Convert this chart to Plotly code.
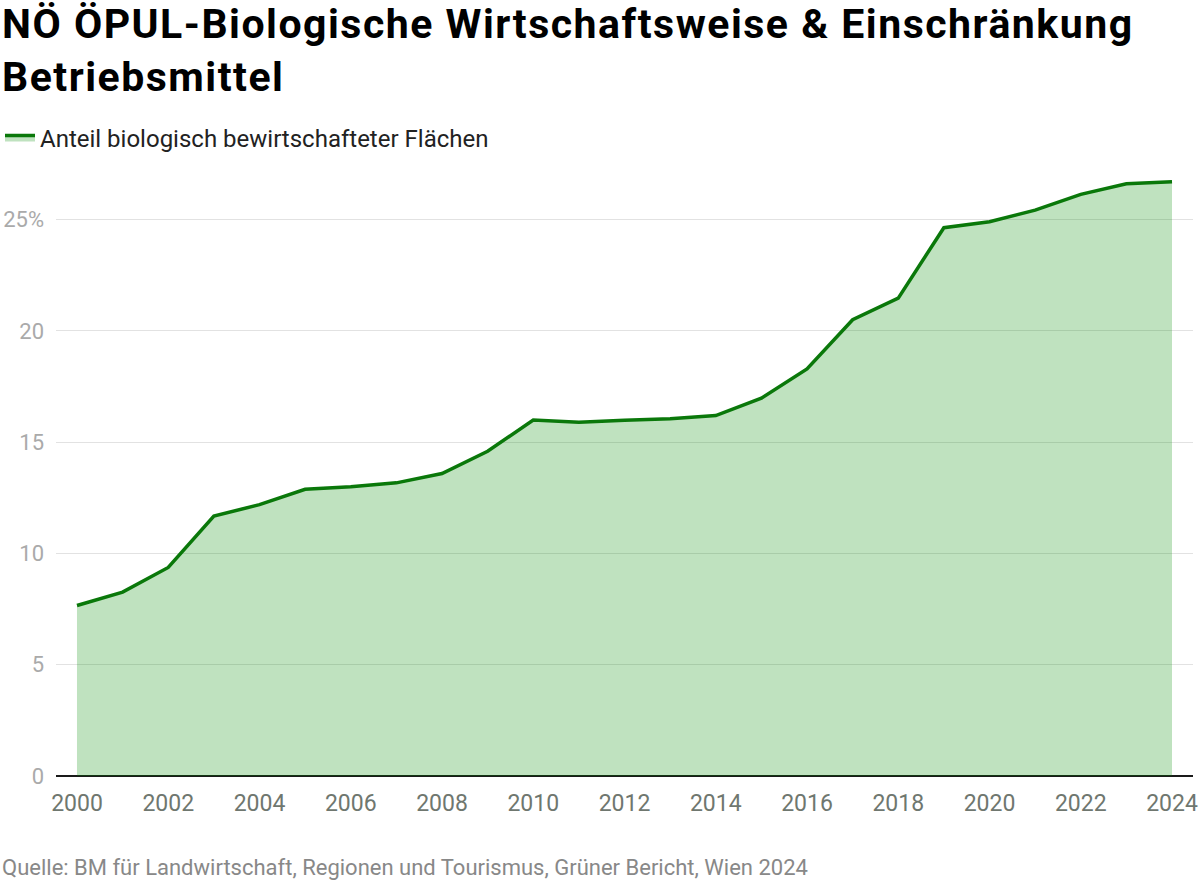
import plotly.graph_objects as go

# Anteil biologisch bewirtschafteter Flächen in NÖ (in %)
jahre = list(range(2000, 2025))
anteil = [7.66, 8.26, 9.37, 11.68, 12.19, 12.88, 12.99, 13.17, 13.59, 14.59,
          15.99, 15.89, 15.98, 16.05, 16.19, 16.97, 18.29, 20.5, 21.47, 24.63,
          24.9, 25.42, 26.13, 26.61, 26.7]

y_ticks = [0, 5, 10, 15, 20, 25]
y_ticktext = ["0", "5", "10", "15", "20", "25%"]

titel_zeilen = ["NÖ ÖPUL-Biologische Wirtschaftsweise & Einschränkung", "Betriebsmittel"]
quelle = "Quelle: BM für Landwirtschaft, Regionen und Tourismus, Grüner Bericht, Wien 2024"

# Titel leicht gesperrt wie im Original
titel = "<br>".join('<span style="letter-spacing:1.5px">%s</span>' % z for z in titel_zeilen)

# Plotbereich in Pixeln (für die Umrechnung der Texte ausserhalb)
rand_l, rand_r, rand_o, rand_u = 56, 7, 175, 106
plot_b = 1200 - rand_l - rand_r
plot_h = 882 - rand_o - rand_u

fig = go.Figure()
fig.add_trace(go.Scatter(
    x=jahre, y=anteil,
    name="Anteil biologisch bewirtschafteter Flächen",
    mode="lines",
    line=dict(color="#0a780a", width=3.5),
    fill="tozeroy",
    fillcolor="rgba(0,140,0,0.25)",
))

fig.update_layout(
    template="none",
    width=1200, height=882,
    paper_bgcolor="white", plot_bgcolor="white",
    font=dict(family="Roboto", color="#222"),
    margin=dict(l=rand_l, r=rand_r, t=rand_o, b=rand_u, pad=0),
    showlegend=True,
    legend=dict(
        orientation="h",
        xref="container", x=-0.005, xanchor="left",
        yref="container", y=1 - 138 / 882, yanchor="middle",
        font=dict(size=24, color="#222"),
        bgcolor="rgba(0,0,0,0)",
    ),
    annotations=[
        dict(
            text=titel,
            xref="paper", x=-rand_l / plot_b, xanchor="left",
            yref="paper", y=1 + (rand_o + 2) / plot_h, yanchor="top",
            align="left", showarrow=False,
            font=dict(family="Roboto", size=41, color="#000", weight="bold"),
        ),
        dict(
            text=quelle,
            xref="paper", x=-rand_l / plot_b, xanchor="left",
            yref="paper", y=-(853 - (882 - rand_u)) / plot_h, yanchor="top",
            showarrow=False,
            font=dict(size=22, color="#888888"),
        ),
    ],
)

fig.update_xaxes(
    range=[1999.54, 2024.46],
    tick0=2000, dtick=2, tickformat="d",
    showgrid=False, zeroline=False, showline=False,
    ticks="", ticklabelstandoff=11, automargin=False,
    tickfont=dict(size=23, color="#6f776f"),
)
fig.update_yaxes(
    range=[0, 27],
    tickvals=y_ticks, ticktext=y_ticktext,
    showgrid=True, gridcolor="#e2e2e2", gridwidth=1,
    zeroline=True, zerolinecolor="#1a1a1a", zerolinewidth=2,
    showline=False, ticks="", ticklabelstandoff=11, automargin=False,
    tickfont=dict(size=22, color="#aaaaaa"),
)

# Standard-Rand des <body> entfernen, damit die Grafik genau im Fenster sitzt
fig.write_html("out.html", config={"displayModeBar": False},
               post_script="document.body.style.margin='0';")
